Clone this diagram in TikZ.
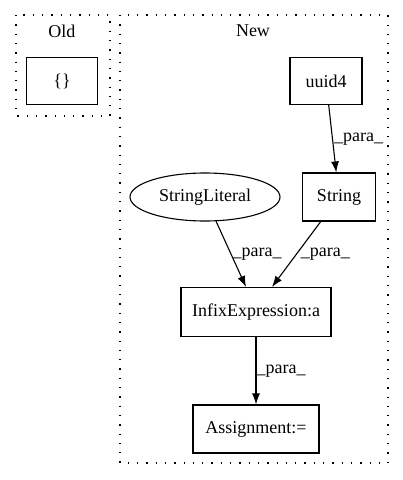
\documentclass[tikz,border=0pt]{standalone}
\usepackage{fontspec}
\setmainfont{Liberation Serif}
\usepackage{tikz}
\usetikzlibrary{positioning,arrows.meta,shapes}
\tikzset {
    box/.style={
        draw=black,
        rectangle, % plain box
        minimum width=72pt,
        minimum height=47pt,
        align=center,
    },
    oval/.style={
        draw=black,
        ellipse, % StringLiteral
        minimum width=150pt,
        minimum height=48pt,
        inner sep=0pt,
    },
    group/.style={
        draw=black,
        line width=1.3pt,
        dash pattern=on 1.3pt off 8pt,
    },
    para/.style={
        right,
        inner sep=1pt,
        fill=none,
    },
}

\begin{document}
\begin{tikzpicture}
        [x=1pt, y=-1pt, font=\fontsize{18}{21}\selectfont,
        every path/.style={line width=1.1pt}, >={Latex[length=11pt,width=8pt]}]

        \useasboundingbox (0,0) rectangle (403,480);

        % clusters
        \draw[group] (16,15) rectangle (110,116);
        \draw[group] (120,15) rectangle (388,463);
        \node (old) at (62,31) {Old};
        \node (new) at (253,31) {New};

        \node[box, minimum width=71pt] (braces) at (62,81) {\{\}};

        \node[box] (uuid) at (326,81) {uuid4};
        \node[box, minimum width=73pt, minimum height=48pt] (str) at (339,197) {String};
        \node[oval] (lit) at (205,197) {StringLiteral};
        \node[box, minimum width=150pt, minimum height=49pt] (infix) at (256,312) {InfixExpression:a};
        \node[box, minimum width=126pt, minimum height=48pt] (assign) at (256,429) {Assignment:=};

        \draw[->] (uuid)  -- node[para] {\_para\_} (str);
        \draw[->] (lit)   -- node[para] {\_para\_} (infix.north -| 246,0);
        \draw[->] (str)   -- node[para, xshift=3pt] {\_para\_} (infix.north -| 272,0);
        \draw[->] (infix) -- node[para, inner sep=0pt] {\_para\_} (assign);
    \end{tikzpicture}
\end{document}
